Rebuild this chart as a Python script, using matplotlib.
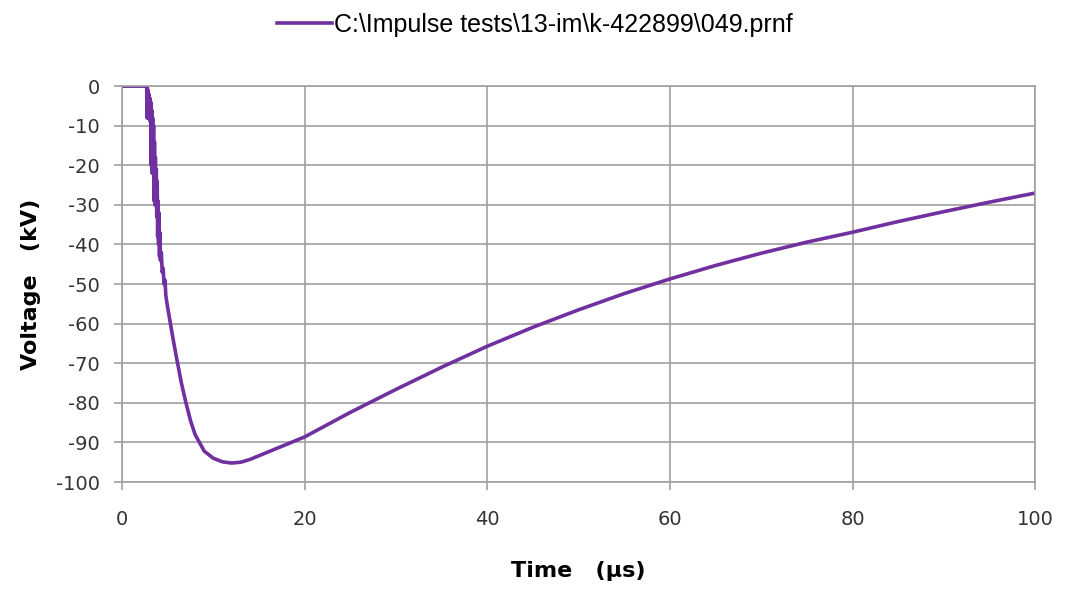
"""Impulse voltage test waveform."""

import matplotlib
matplotlib.use("Agg")
import matplotlib.pyplot as plt

plt.rcParams["axes.unicode_minus"] = False

# waveform (time in us, voltage in kV)
time_us = [
    0, 2.7, 2.72, 2.76, 2.8, 2.84, 2.9, 2.95, 3.0, 3.05, 3.1, 3.15, 3.2,
    3.25, 3.3, 3.35, 3.4, 3.45, 3.5, 3.55, 3.6, 3.65, 3.7, 3.75, 3.8, 3.85,
    3.9, 3.95, 4.0, 4.05, 4.1, 4.15, 4.2, 4.3, 4.4, 4.5, 4.6, 4.7, 4.8,
    5.0, 5.3, 5.6, 6.0, 6.5, 7.0, 7.5, 8.0, 9.0, 10, 11, 12, 13, 14, 16,
    18, 20, 25, 30, 35, 40, 45, 50, 55, 60, 65, 70, 75, 80, 85, 90, 95, 100,
]
voltage_kv = [
    0, 0, -8, 0, -8, -1, -8, -2, -8, -3, -9, -4, -20,
    -6, -22, -8, -22, -10, -29, -14, -30, -18, -30, -21, -33, -24,
    -38, -29, -40, -32, -43, -37, -44, -42, -47, -46, -50, -49, -53,
    -56, -60, -64, -69, -75, -80, -84.5, -88, -92.2, -94.0, -94.9, -95.2, -95.0, -94.3, -92.4,
    -90.5, -88.6, -82.4, -76.6, -71.0, -65.7, -60.9, -56.5, -52.4, -48.7, -45.3, -42.2, -39.4,
    -36.9, -34.2, -31.7, -29.3, -27.0,
]
legend_label = r"C:\Impulse tests\13-im\k-422899\049.prnf"

x_ticks = [0, 20, 40, 60, 80, 100]
y_ticks = list(range(0, -101, -10))

fig = plt.figure(figsize=(10.65, 5.9), dpi=100)
ax = fig.add_axes([0.1146, 0.183, 0.8574, 0.671])

ax.plot(time_us, voltage_kv, color="#7030a0", linewidth=2.6, label=legend_label)

ax.set_xlim(0, 100)
ax.set_ylim(-100, 0)
ax.set_xticks(x_ticks)
ax.set_yticks(y_ticks)
ax.grid(True, color="#a0a0a0", linewidth=1.2)
ax.set_axisbelow(True)
for side in ["top", "right", "bottom", "left"]:
    ax.spines[side].set_color("#a0a0a0")
    ax.spines[side].set_linewidth(1.2)
ax.tick_params(axis="both", direction="out", length=6, width=1.2, color="#a0a0a0",
               labelsize=14, labelcolor="#333333")
ax.tick_params(axis="y", pad=10)
ax.tick_params(axis="x", pad=14)

ax.set_xlabel("Time   (µs)", fontsize=16, fontweight="bold", labelpad=23)
ax.set_ylabel("Voltage   (kV)", fontsize=16, fontweight="bold", labelpad=11)

ax.legend(loc="center", bbox_to_anchor=(0.452, 1.154), frameon=False,
          prop={"family": "Liberation Sans", "size": 18},
          handlelength=2.2, handletextpad=0.1, borderaxespad=0)

fig.savefig("out.png", dpi=100, facecolor="white")
plt.close(fig)
